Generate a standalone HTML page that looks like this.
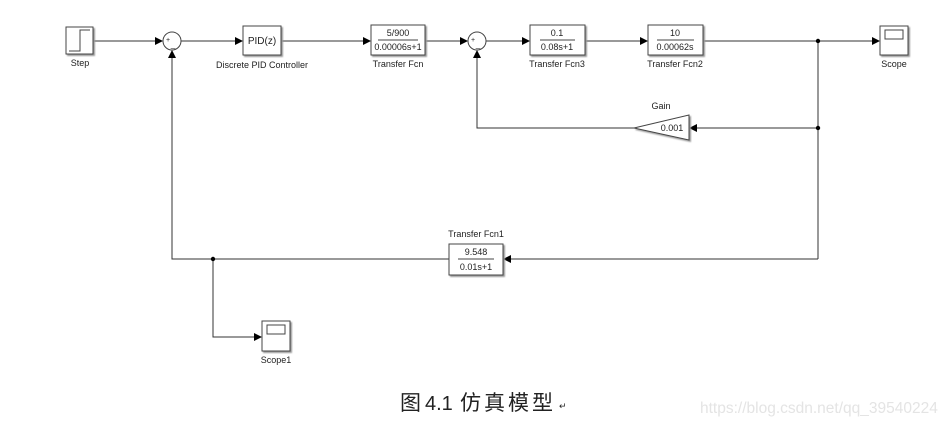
<!DOCTYPE html>
<html><head><meta charset="utf-8">
<style>
html,body{margin:0;padding:0;background:#fff;}
svg{display:block;}
text{font-family:"Liberation Sans",Arial,sans-serif;fill:#222;}
</style></head>
<body>
<svg width="952" height="427" viewBox="0 0 952 427" xmlns="http://www.w3.org/2000/svg">
<defs>
<marker id="a" markerWidth="8" markerHeight="8" refX="7" refY="4" orient="auto" markerUnits="userSpaceOnUse">
<path d="M0,0 L8,4 L0,8 z" fill="#000"/>
</marker>
<filter id="sh" x="-10%" y="-10%" width="130%" height="130%"><feDropShadow dx="1.5" dy="1.5" stdDeviation="0.8" flood-color="#999"/></filter>
</defs>
<g stroke="#333" stroke-width="1" fill="none">
<line x1="93" y1="41" x2="162" y2="41" marker-end="url(#a)"/>
<line x1="181" y1="41" x2="242" y2="41" marker-end="url(#a)"/>
<line x1="281" y1="41" x2="370" y2="41" marker-end="url(#a)"/>
<line x1="425" y1="41" x2="467" y2="41" marker-end="url(#a)"/>
<line x1="486" y1="41" x2="529" y2="41" marker-end="url(#a)"/>
<line x1="585" y1="41" x2="647" y2="41" marker-end="url(#a)"/>
<line x1="703" y1="41" x2="879" y2="41" marker-end="url(#a)"/>
<line x1="818" y1="41" x2="818" y2="259"/>
<line x1="818" y1="128" x2="690" y2="128" marker-end="url(#a)"/>
<polyline points="634,128 477,128 477,51" marker-end="url(#a)"/>
<line x1="818" y1="259" x2="504" y2="259" marker-end="url(#a)"/>
<polyline points="449,259 172,259 172,51" marker-end="url(#a)"/>
<polyline points="213,259 213,337 261,337" marker-end="url(#a)"/>
</g>
<g fill="#000">
<circle cx="818" cy="41" r="2.2"/><circle cx="818" cy="128" r="2.2"/><circle cx="213" cy="259" r="2.2"/>
</g>
<g stroke="#444" stroke-width="1" fill="#fff" filter="url(#sh)">
<rect x="66" y="27" width="27" height="27"/>
<rect x="243" y="26" width="38" height="29"/>
<rect x="371" y="25" width="54" height="30"/>
<rect x="530" y="25" width="55" height="30"/>
<rect x="648" y="25" width="55" height="30"/>
<rect x="880" y="26" width="28" height="29"/>
<rect x="449" y="244" width="54" height="31"/>
<rect x="262" y="321" width="28" height="30"/>
<polygon points="634,128 689,115 689,140"/>
</g>
<g stroke="#444" fill="none">
<circle cx="172" cy="41" r="9"/><circle cx="477" cy="41" r="9"/>
<polyline points="69,51 80,51 80,30 90,30"/>
<rect x="885" y="30" width="18" height="9"/>
<rect x="267" y="325" width="18" height="9"/>
<line x1="378" y1="40" x2="418" y2="40"/>
<line x1="540" y1="40" x2="575" y2="40"/>
<line x1="657" y1="40" x2="694" y2="40"/>
<line x1="458" y1="259" x2="494" y2="259"/>
</g>
<g font-size="9" text-anchor="middle">
<text x="168" y="42" font-size="7">+</text><text x="173" y="47" font-size="8">_</text>
<text x="473" y="42" font-size="7">+</text><text x="478" y="47" font-size="8">_</text>
<text x="262" y="44" font-size="10">PID(z)</text>
<text x="398" y="36">5/900</text><text x="398" y="50">0.00006s+1</text>
<text x="557" y="36">0.1</text><text x="557" y="50">0.08s+1</text>
<text x="675" y="36">10</text><text x="675" y="50">0.00062s</text>
<text x="476" y="255">9.548</text><text x="476" y="270">0.01s+1</text>
<text x="672" y="131">0.001</text>
<text x="80" y="66">Step</text>
<text x="262" y="68">Discrete PID Controller</text>
<text x="398" y="67">Transfer Fcn</text>
<text x="557" y="67">Transfer Fcn3</text>
<text x="675" y="67">Transfer Fcn2</text>
<text x="894" y="67">Scope</text>
<text x="661" y="109">Gain</text>
<text x="476" y="237">Transfer Fcn1</text>
<text x="276" y="363">Scope1</text>
</g>
<g style="font-family:'Noto Serif CJK SC','Noto Sans CJK SC',serif" font-size="21">
<text x="400" y="410">图</text>
<text x="460" y="410" letter-spacing="3">仿真模型</text>
</g>
<text x="425" y="410" font-size="20">4.1</text>
<text x="559" y="409" font-size="9" fill="#888">↵</text>
<text x="700" y="413" font-size="15.5" style="fill:#e4e4e4">https://blog.csdn.net/qq_39540224</text>
</svg>
</body></html>
